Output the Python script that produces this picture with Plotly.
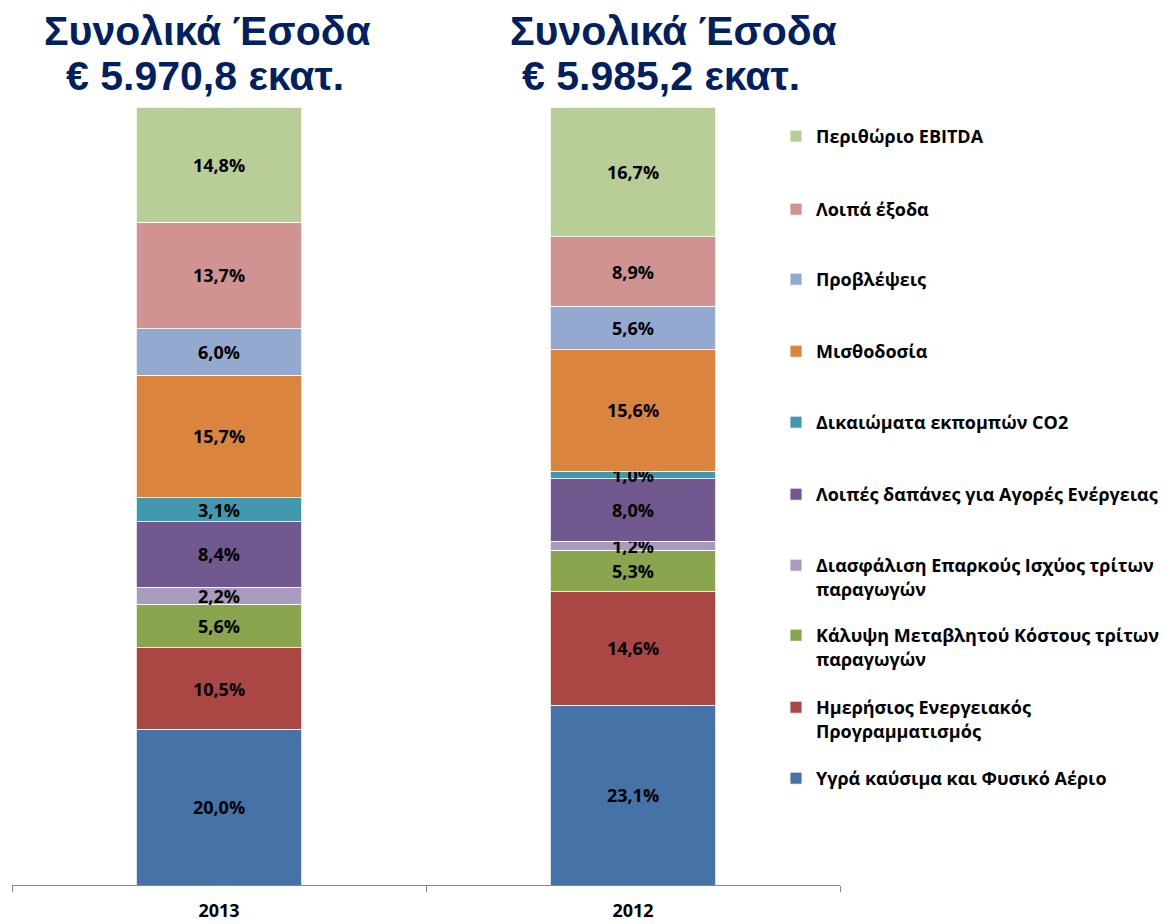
import plotly.graph_objects as go

years = ["2013", "2012"]

series_names = [
    "Υγρά καύσιμα και Φυσικό Αέριο",
    "Ημερήσιος Ενεργειακός<br>Προγραμματισμός",
    "Κάλυψη Μεταβλητού Κόστους τρίτων<br>παραγωγών",
    "Διασφάλιση Επαρκούς Ισχύος τρίτων<br>παραγωγών",
    "Λοιπές δαπάνες για Αγορές Ενέργειας",
    "Δικαιώματα εκπομπών CO2",
    "Μισθοδοσία",
    "Προβλέψεις",
    "Λοιπά έξοδα",
    "Περιθώριο EBITDA",
]

fuel = [20.0, 23.1]
daily_sched = [10.5, 14.6]
var_cost = [5.6, 5.3]
capacity = [2.2, 1.2]
other_energy = [8.4, 8.0]
co2 = [3.1, 1.0]
payroll = [15.7, 15.6]
provisions = [6.0, 5.6]
other_exp = [13.7, 8.9]
ebitda = [14.8, 16.7]

series_values = [fuel, daily_sched, var_cost, capacity, other_energy,
                 co2, payroll, provisions, other_exp, ebitda]

colors = ["#4572A7", "#AA4643", "#89A54E", "#A99BBD", "#71588F",
          "#4198AF", "#DB843D", "#93A9CF", "#D19392", "#B9CD96"]

title_line1 = "Συνολικά Έσοδα"
totals_text = ["€ 5.970,8 εκατ.", "€ 5.985,2 εκατ."]

W, H = 1167, 924
OFF = 8  # page body margin
# plot area in reference screen pixels: x 12..840, y 107..885
L = 12 - OFF
T = 107 - OFF
R = W - (840 - OFF)
B = H - (885 - OFF)
plot_w = W - L - R
plot_h = H - T - B


def px_x(px):
    return (px - OFF - L) / plot_w


def px_y(py):
    return (H - B - (py - OFF)) / plot_h


FONT = "Open Sans"
lbl_font = dict(family=FONT, size=18, color="black", weight="bold")

fig = go.Figure()

# legend first-line centres (reference pixels), one per series
legend_first_line = [781, 710, 638, 568, 497, 425, 354, 282, 212, 139]

for i, (name, vals, col) in enumerate(zip(series_names, series_values, colors)):
    lid = "legend" if i == 0 else f"legend{i + 1}"
    fig.add_trace(go.Bar(
        x=years, y=vals, name=name,
        marker=dict(color=col, line=dict(color="white", width=0.8)),
        text=[f"{v:.1f}".replace(".", ",") + "%" for v in vals],
        textposition="inside", insidetextanchor="middle",
        textangle=0, constraintext="none",
        textfont=lbl_font,
        legend=lid,
        showlegend=True,
    ))
    fig.update_layout(**{lid: dict(
        x=px_x(776), xanchor="left",
        y=px_y(legend_first_line[i] - 21), yanchor="top",
        valign="top",
        font=dict(family=FONT, size=18, color="black", weight="bold"),
        bgcolor="rgba(0,0,0,0)", borderwidth=0,
    )})

title_font = dict(family="Liberation Sans", size=41, color="#002060", weight="bold")
annotations = [
    dict(text=title_line1, x=px_x(207), y=px_y(31)),
    dict(text=totals_text[0], x=px_x(205), y=px_y(76)),
    dict(text=title_line1, x=px_x(673), y=px_y(31)),
    dict(text=totals_text[1], x=px_x(661), y=px_y(76)),
]
for a in annotations:
    a.update(xref="paper", yref="paper", xanchor="center", yanchor="middle",
             showarrow=False, font=title_font)

fig.update_layout(
    width=W, height=H,
    margin=dict(l=L, r=R, t=T, b=B, autoexpand=False),
    barmode="stack", bargap=0.6,
    paper_bgcolor="white", plot_bgcolor="white",
    annotations=annotations,
    xaxis=dict(
        type="category", showline=True, linecolor="#868686", linewidth=1,
        ticks="outside", tickson="boundaries", ticklen=6, tickcolor="#868686",
        tickfont=dict(family=FONT, size=18, color="black", weight="bold"),
        ticklabelstandoff=9,
        showgrid=False, zeroline=False,
    ),
    yaxis=dict(range=[0, 100], visible=False, showgrid=False, zeroline=False),
)

fig.write_html("out.html")
